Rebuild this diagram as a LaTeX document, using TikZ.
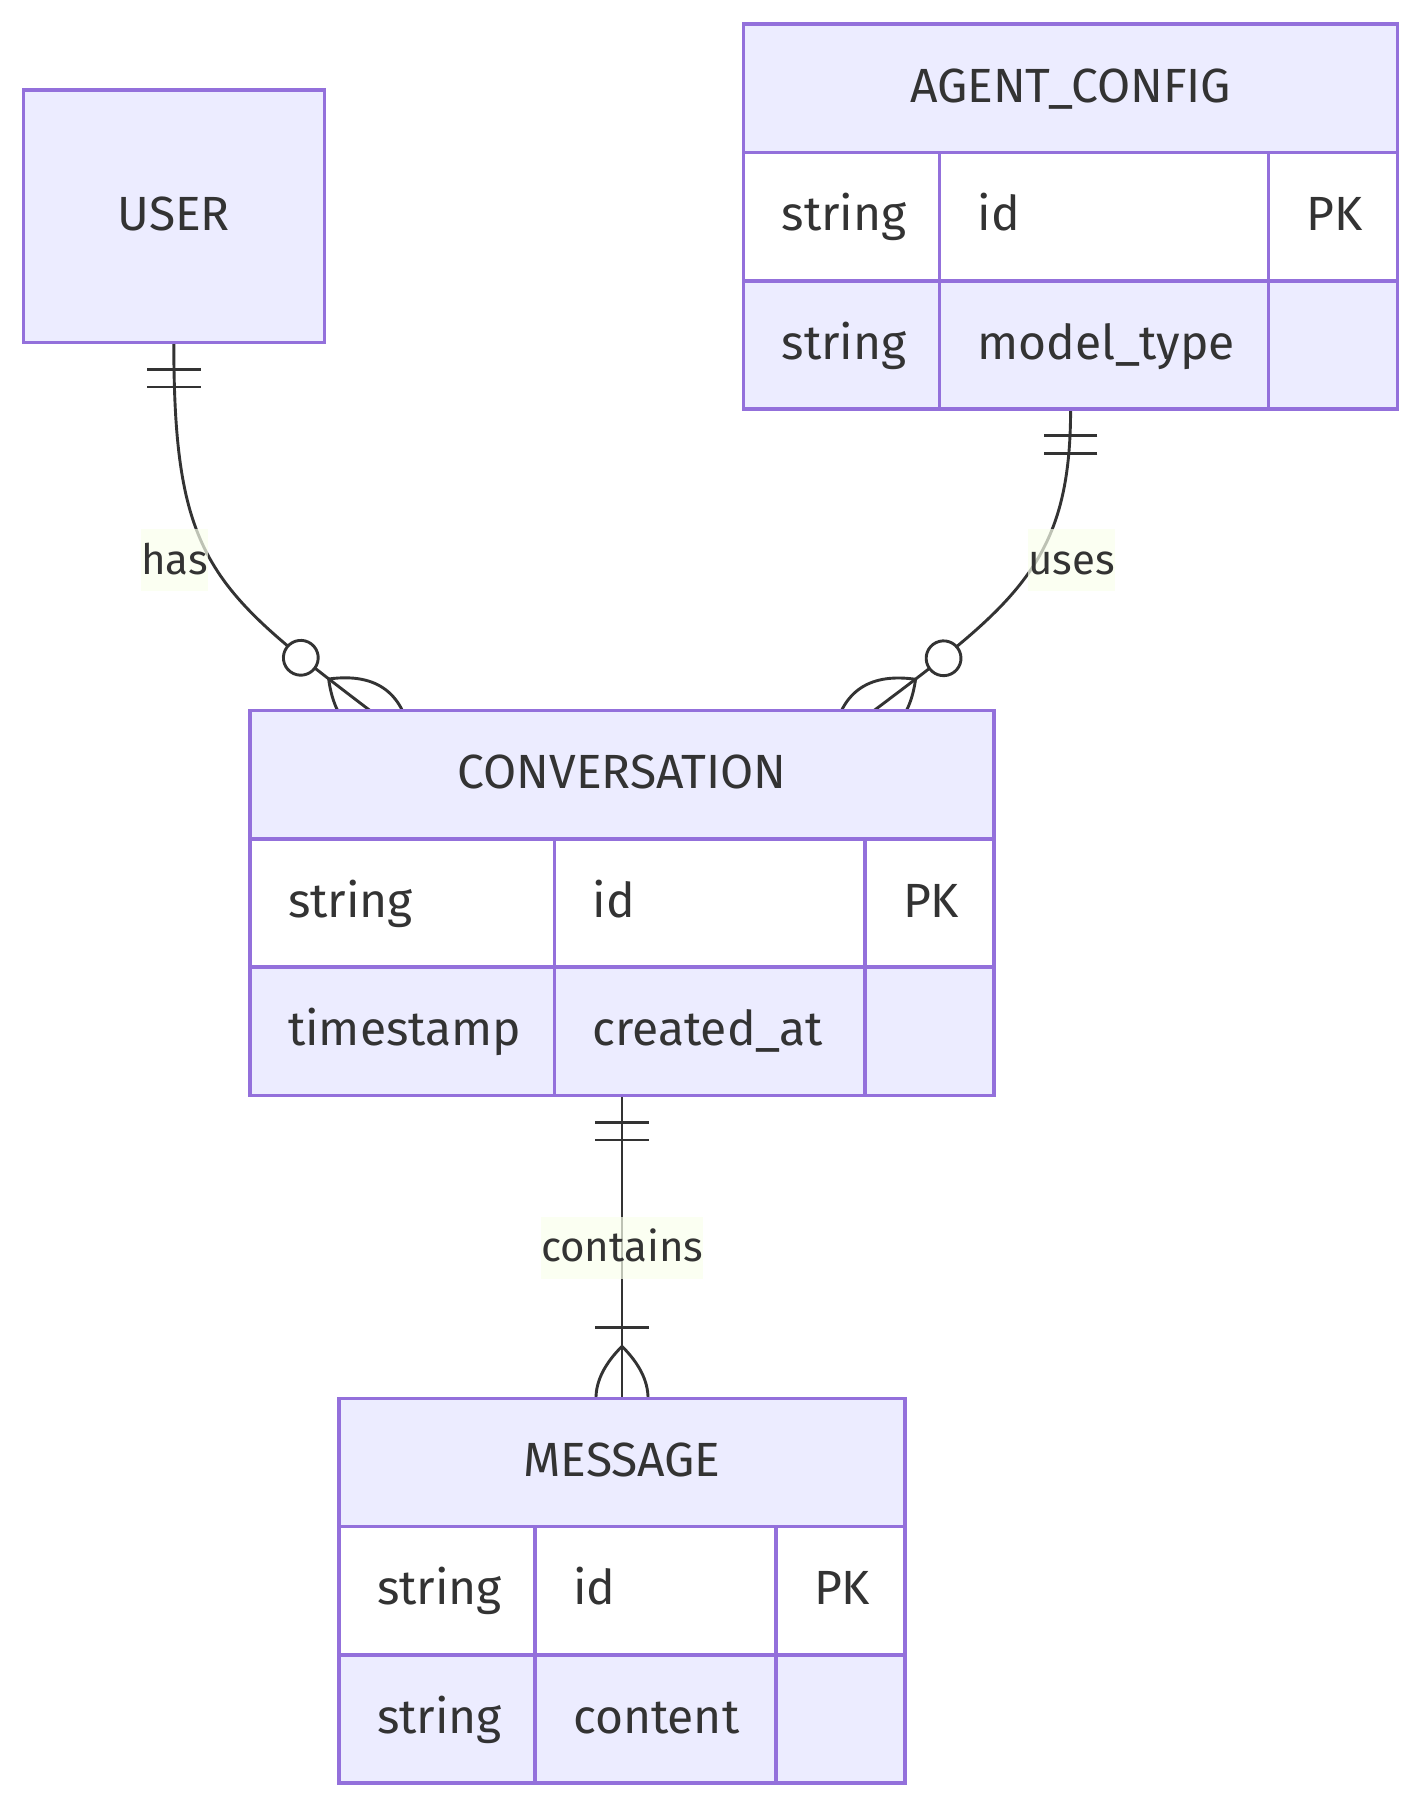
\documentclass[tikz,border=0pt]{standalone}
\usepackage{fontspec}
\setmainfont{Fira Sans}
\usetikzlibrary{positioning}
\pgfdeclarelayer{background}
\pgfsetlayers{background,main}
\hyphenpenalty=10000
\definecolor{entfill}{HTML}{ECECFF}
\definecolor{entline}{HTML}{9370DB}
\definecolor{ink}{HTML}{333333}
\definecolor{lblfill}{RGB}{249,255,236}
\tikzset{
  ent/.style={draw=entline, line width=1.75pt, fill=entfill, text=ink, inner ysep=0pt, outer sep=0pt,
    font=\fontsize{24}{28}\selectfont, text height=18.2pt, text depth=4pt, minimum height=64.15pt},
  head/.style={ent, inner xsep=0pt, anchor=north west},
  attr/.style={ent, inner xsep=19pt, align=left, text width=#1},
  oddrow/.style={fill=white},
  rel/.style={draw=ink, line width=1.45pt},
  lbl/.style={fill=lblfill, fill opacity=0.7, text opacity=1, text=ink, inner sep=0pt,
    font=\fontsize{21}{25}\selectfont, text height=18pt, text depth=4pt, minimum height=30.7pt},
  onlyone/.pic={\draw[rel] (26.7,-26.7) -- (26.7,26.7) (44.6,-26.7) -- (44.6,26.7);},
  zeromany/.pic={
    \draw[rel, fill=white] (-87,0) circle[radius=8.7pt];
    \draw[rel] (-52,0) .. controls (-17.3,34.7) and (17.3,34.7) .. (52,0)
      .. controls (17.3,-34.7) and (-17.3,-34.7) .. (-52,0);},
  onemany/.pic={
    \draw[rel] (-71,-26.7) -- (-71,26.7);
    \draw[rel] (-52,0) .. controls (-17.3,34.7) and (17.3,34.7) .. (52,0)
      .. controls (17.3,-34.7) and (-17.3,-34.7) .. (-52,0);}
}
\begin{document}
\begin{tikzpicture}[x=0.5pt, y=-0.5pt]
\useasboundingbox (0,0) rectangle (1422,1808);

\node[head, minimum width=150.5pt, minimum height=126.2pt] (user) at (23.3,90) {USER};

\node[head, minimum width=326.9pt] (agent) at (743.7,24.2) {AGENT\_CONFIG};
\node[attr=59.9pt, oddrow, below right=0pt and 0pt of agent.south west] (agent-1-1) {string};
\node[attr=126.5pt, oddrow, right=0pt of agent-1-1] (agent-1-2) {id};
\node[attr=26.5pt, oddrow, right=0pt of agent-1-2] (agent-1-3) {PK};
\node[attr=59.9pt, below=0pt of agent-1-1] (agent-2-1) {string};
\node[attr=126.5pt, right=0pt of agent-2-1] (agent-2-2) {model\_type};
\node[attr=26.5pt, right=0pt of agent-2-2] (agent-2-3) {};

\node[head, minimum width=372pt] (conversation) at (250,710.5) {CONVERSATION};
\node[attr=114.25pt, oddrow, below right=0pt and 0pt of conversation.south west] (conversation-1-1) {string};
\node[attr=117.25pt, oddrow, right=0pt of conversation-1-1] (conversation-1-2) {id};
\node[attr=26.5pt, oddrow, right=0pt of conversation-1-2] (conversation-1-3) {PK};
\node[attr=114.25pt, below=0pt of conversation-1-1] (conversation-2-1) {timestamp};
\node[attr=117.25pt, right=0pt of conversation-2-1] (conversation-2-2) {created\_at};
\node[attr=26.5pt, right=0pt of conversation-2-2] (conversation-2-3) {};

\node[head, minimum width=283pt] (message) at (339,1398.3) {MESSAGE};
\node[attr=60pt, oddrow, below right=0pt and 0pt of message.south west] (message-1-1) {string};
\node[attr=82.5pt, oddrow, right=0pt of message-1-1] (message-1-2) {id};
\node[attr=26.5pt, oddrow, right=0pt of message-1-2] (message-1-3) {PK};
\node[attr=60pt, below=0pt of message-1-1] (message-2-1) {string};
\node[attr=82.5pt, right=0pt of message-2-1] (message-2-2) {content};
\node[attr=26.5pt, right=0pt of message-2-2] (message-2-3) {};

\coordinate (agent-s) at (agent.south |- agent-2-1.south);
\coordinate (conversation-s) at (conversation.south |- conversation-2-1.south);
\coordinate (has-end) at (370,710.5);
\coordinate (uses-end) at (874,710.5);

\begin{pgfonlayer}{background}
\draw[rel] (user.south) .. controls +(0,218) and +(-159.2,-121.2) .. (has-end);
\draw[rel] (agent-s) .. controls +(0,151.7) and +(144,-108) .. (uses-end);
\draw[rel] (conversation-s) -- (message.north);
\pic[rotate=-90] at (user.south) {onlyone};
\pic[rotate=-90] at (agent-s) {onlyone};
\pic[rotate=-90] at (conversation-s) {onlyone};
\pic[rotate=-37.3] at (has-end) {zeromany};
\pic[rotate=-143.1] at (uses-end) {zeromany};
\pic[rotate=-90] at (message.north) {onemany};
\end{pgfonlayer}

\node[lbl] (has) at (174.7,560) {has};
\node[lbl] (uses) at (1071.7,560) {uses};
\node[lbl] (contains) at (622.2,1247.8) {contains};
\end{tikzpicture}
\end{document}
